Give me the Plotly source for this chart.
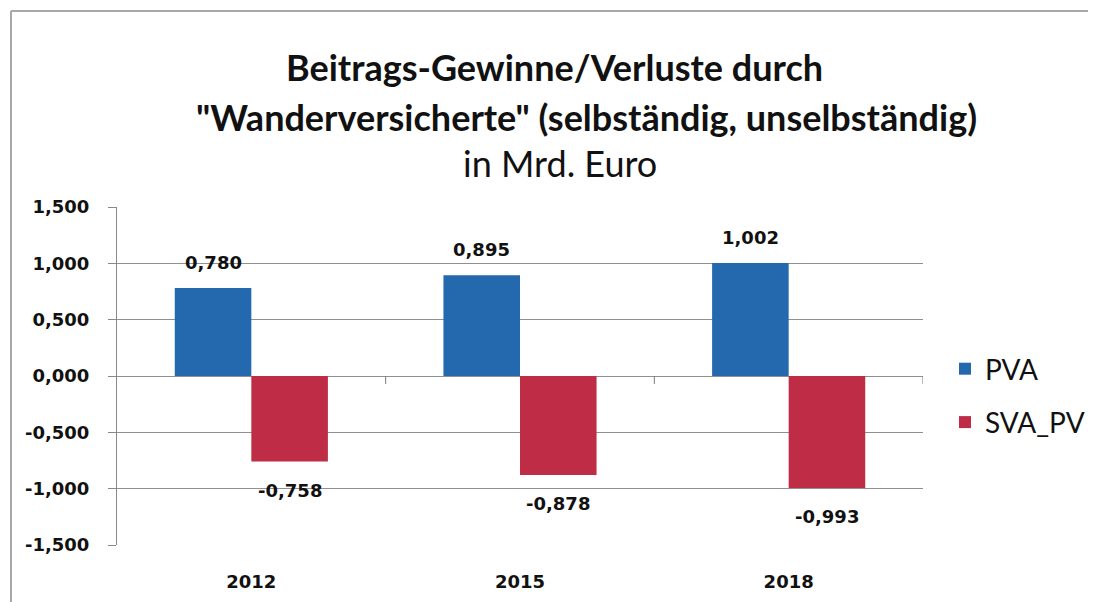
import plotly.graph_objects as go

years = ["2012", "2015", "2018"]
pva = [0.780, 0.895, 1.002]
sva_pv = [-0.758, -0.878, -0.993]
pva_labels = ["0,780", "0,895", "1,002"]
sva_labels = ["-0,758", "-0,878", "-0,993"]
y_ticks = [1.5, 1.0, 0.5, 0.0, -0.5, -1.0, -1.5]
y_tick_text = ["1,500", "1,000", "0,500", "0,000", "-0,500", "-1,000", "-1,500"]

blue = "#2469AE"
red = "#BE2D45"
grid = "#909090"
txt = "#111111"

# page has an 8px body margin; work in page pixels and convert
OFF = 8
W, H = 1096 - OFF, 602 - OFF
l, t = 117 - OFF, 207 - OFF
r = W - (923 - OFF)
b = H - (545 - OFF)
pw, ph = W - l - r, H - t - b


def px_x(page_px):
    return (page_px - OFF - l) / pw


def px_y(page_py):
    return (H - b - (page_py - OFF)) / ph


fig = go.Figure()
fig.add_trace(go.Bar(x=years, y=pva, name="PVA", legendgroup="a",
                     marker=dict(color=blue, line=dict(width=0))))
fig.add_trace(go.Bar(x=years, y=sva_pv, name="SVA_PV", legendgroup="b",
                     marker=dict(color=red, line=dict(width=0))))

bargap = 0.43
off = (1 - bargap) / 4
lab_font = dict(family="DejaVu Sans", size=18, color=txt, weight="bold")
annotations = []
for i, (v, s) in enumerate(zip(pva, pva_labels)):
    annotations.append(dict(x=i - off, y=v, xref="x", yref="y", text=s, showarrow=False,
                            yanchor="middle", yshift=26, font=lab_font))
for i, (v, s) in enumerate(zip(sva_pv, sva_labels)):
    annotations.append(dict(x=i + off, y=v, xref="x", yref="y", text=s, showarrow=False,
                            yanchor="middle", yshift=-29, font=lab_font))

# title lines
annotations.append(dict(x=px_x(554), y=px_y(67), xref="paper", yref="paper", showarrow=False,
                        text="<b>Beitrags-Gewinne/Verluste durch</b>", yanchor="middle",
                        font=dict(family="Lato", size=36, color=txt)))
annotations.append(dict(x=px_x(586), y=px_y(117), xref="paper", yref="paper", showarrow=False,
                        text="<b>\"Wanderversicherte\" (selbständig, unselbständig)</b>",
                        yanchor="middle", font=dict(family="Lato", size=36, color=txt)))
annotations.append(dict(x=px_x(560), y=px_y(163), xref="paper", yref="paper", showarrow=False,
                        text="in Mrd. Euro", yanchor="middle",
                        font=dict(family="Lato", size=36, color=txt)))

shapes = [
    dict(type="line", xref="paper", yref="paper", x0=px_x(11), x1=px_x(11), y0=px_y(11), y1=px_y(610),
         line=dict(color="#A8A8A8", width=2)),
    dict(type="line", xref="paper", yref="paper", x0=px_x(11), x1=px_x(1110), y0=px_y(11), y1=px_y(11),
         line=dict(color="#A8A8A8", width=2)),
]
# category tick marks on the zero line
for xb in [0.5, 1.5, 2.5]:
    shapes.append(dict(type="line", xref="x", yref="y", x0=xb, x1=xb, y0=0, y1=-0.07,
                       line=dict(color="#777777", width=1)))

fig.update_layout(
    width=W, height=H,
    margin=dict(l=l, r=r, t=t, b=b, autoexpand=False),
    paper_bgcolor="white", plot_bgcolor="white",
    barmode="group", bargap=bargap, bargroupgap=0,
    showlegend=True,
    legend=dict(x=px_x(945), y=px_y(344), xref="paper", yref="paper", xanchor="left", yanchor="top",
                font=dict(family="Lato", size=28, color=txt), tracegroupgap=14,
                traceorder="grouped", bgcolor="rgba(0,0,0,0)"),
    annotations=annotations,
    shapes=shapes,
    xaxis=dict(type="category", range=[-0.5, 2.5], showgrid=False, zeroline=False, showline=False,
               ticks="", tickfont=lab_font, ticklabelstandoff=24),
    yaxis=dict(range=[-1.5, 1.5], tickvals=y_ticks, ticktext=y_tick_text, showgrid=True,
               gridcolor=grid, gridwidth=1, zeroline=True, zerolinecolor=grid, zerolinewidth=1,
               showline=True, linecolor="#888888", linewidth=1, ticks="outside", ticklen=8,
               tickcolor="#888888", tickfont=lab_font, ticklabelstandoff=15),
)

fig.write_html("out.html")
